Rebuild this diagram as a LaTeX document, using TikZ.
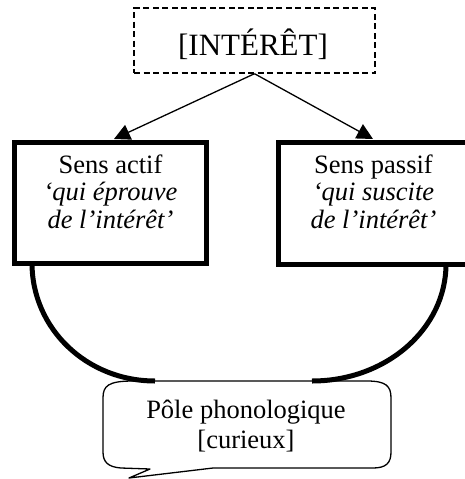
\documentclass[tikz,border=0pt]{standalone}
\usepackage{fontspec}
\setmainfont{Liberation Serif}
\usetikzlibrary{arrows.meta}
\tikzset{
  dashbox/.style={draw, line width=1.4pt, dash pattern=on 6pt off 3.5pt, minimum width=241pt, minimum height=65pt, inner sep=0pt},
  thickbox/.style={draw, line width=5pt, fill=white},
  label26/.style={inner sep=0pt, anchor=base, font=\fontsize{26.5}{28}\selectfont},
  conn/.style={line width=1.3pt, -{Triangle[length=16pt,width=16pt]}},
  arcline/.style={line width=5pt},
  bubble/.style={draw, line width=1.3pt, fill=white, line join=round}
}
\begin{document}
\begin{tikzpicture}[x=1pt,y=-1pt]
\clip (0,0) rectangle (465,479);
% top dashed box
\node[dashbox] (top) at (254.5,40.5) {};
\node[inner sep=0pt, anchor=base, font=\fontsize{31}{33}\selectfont] (toptext) at (253,55) {[INTÉRÊT]};
% arrow end points
\coordinate (la) at (114,139);
\coordinate (ra) at (373,139);
\draw[conn] (top.south) -- (la);
\draw[conn] (top.south) -- (ra);
% boxes
\path[thickbox] (14.5,142.5) rectangle (206.5,263.5);
\path[thickbox] (278,142.5) rectangle (472,264);
\coordinate (lboxc) at (110.5,203);
\coordinate (rboxc) at (375,203);
\node[label26] (l1) at (110.5,173) {Sens actif};
\node[label26] (l2) at (110.5,200.5) {\itshape ‘qui éprouve};
\node[label26] (l3) at (110.5,228) {\itshape de l’intérêt’};
\node[label26] (r1) at (373.5,173) {Sens passif};
\node[label26] (r2) at (373.5,200.5) {\itshape ‘qui suscite};
\node[label26] (r3) at (373.5,228) {\itshape de l’intérêt’};
% bubble
\path[bubble] (133,381) -- (367,381)
  .. controls (386,381) and (391,386) .. (391,398)
  -- (391,452) .. controls (391,463) and (386,468) .. (373,468)
  -- (213,468) -- (129,478) -- (150,469) -- (121,468)
  .. controls (108,467) and (103,462) .. (103,452)
  -- (103,398) .. controls (103,386) and (108,381) .. (133,381) -- cycle;
\node[label26] (b1) at (246,418) {Pôle phonologique};
\node[label26] (b2) at (246,448) {[curieux]};
% arcs
\draw[arcline] (32,263) .. controls (32,329) and (87,381) .. (155,381);
\draw[arcline] (446,264) .. controls (446,329) and (386,381) .. (312,381);
\end{tikzpicture}
\end{document}
